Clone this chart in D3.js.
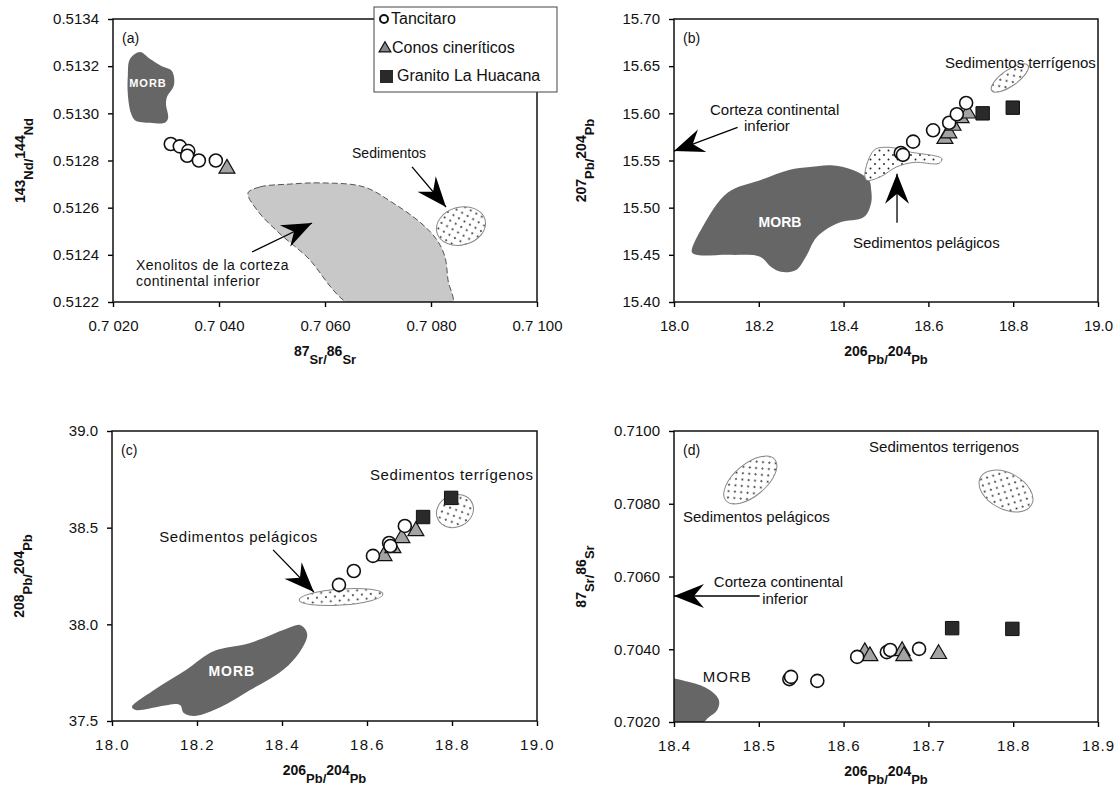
<!DOCTYPE html>
<html>
<head>
<meta charset="utf-8">
<script src="https://d3js.org/d3.v7.min.js"></script>
<style>
  body { margin: 0; background: #fff; }
  text { font-family: "Liberation Sans", Arial, sans-serif; fill: #111; }
</style>
</head>
<body>
<div id="chart"></div>
<script>
// ---------- data ----------
// (a) 87Sr/86Sr vs 143Nd/144Nd
const tanA = [[0.70309,0.51287],[0.70326,0.51286],[0.70342,0.51284],[0.70340,0.51282],[0.70362,0.51280],[0.70394,0.51280]];
const conA = [[0.70415,0.51277]];
const morbA = [[0.70228,0.51316],[0.70232,0.51323],[0.70251,0.51326],[0.70270,0.51323],[0.70292,0.51320],[0.70311,0.51318],
  [0.70315,0.51312],[0.70302,0.51307],[0.70300,0.51304],[0.70304,0.51298],[0.70298,0.51296],[0.70270,0.51296],
  [0.70242,0.51297],[0.70234,0.51300],[0.70228,0.51308]];
const xenoA = [[0.704547,0.512662],[0.704774,0.512688],[0.70534,0.512700],[0.705925,0.512705],[0.706736,0.512688],
  [0.707283,0.51262],[0.707811,0.512535],[0.708113,0.512463],[0.708264,0.512391],[0.708321,0.512293],[0.708396,0.51218],
  [0.706547,0.51218],[0.70566,0.512391],[0.705132,0.512493],[0.704717,0.51259]];
const sedA = [0.708566, 0.512522, 0.00047, 0.000080, -15];      // ellipse: cx, cy, rx, ry, angle

// (b) 206Pb/204Pb vs 207Pb/204Pb
const tanB = [[18.535,15.558],[18.540,15.556],[18.564,15.570],[18.611,15.582],[18.649,15.590],[18.667,15.599],[18.689,15.611]];
const conB = [[18.639,15.574],[18.648,15.580],[18.658,15.588],[18.677,15.596],[18.693,15.601]];
const graB = [[18.728,15.600],[18.799,15.606]];
const morbB = [[18.042,15.453],[18.068,15.480],[18.127,15.516],[18.203,15.529],[18.271,15.540],[18.321,15.543],[18.370,15.545],
  [18.422,15.540],[18.460,15.529],[18.465,15.519],[18.465,15.505],[18.448,15.490],[18.389,15.484],[18.337,15.469],
  [18.311,15.448],[18.288,15.434],[18.252,15.432],[18.229,15.437],[18.203,15.448],[18.134,15.450],[18.052,15.450]];
const pelB = [[18.450,15.535],[18.472,15.561],[18.507,15.564],[18.557,15.559],[18.632,15.552],[18.625,15.547],
  [18.566,15.548],[18.524,15.543],[18.488,15.533],[18.455,15.529]];
const terB = [18.792, 15.6375, 0.052, 0.0085, -35];

// (c) 206Pb/204Pb vs 208Pb/204Pb
const tanC = [[18.534,38.204],[18.569,38.276],[18.614,38.354],[18.652,38.421],[18.655,38.405],[18.689,38.509]];
const conC = [[18.640,38.359],[18.661,38.400],[18.682,38.452],[18.715,38.488]];
const graC = [[18.732,38.555],[18.798,38.654]];
const morbC = [[18.047,37.572],[18.099,37.660],[18.174,37.764],[18.240,37.862],[18.325,37.904],[18.409,37.976],[18.442,37.997],
  [18.456,37.971],[18.459,37.935],[18.433,37.831],[18.393,37.748],[18.325,37.660],[18.256,37.572],[18.195,37.526],
  [18.169,37.541],[18.160,37.583],[18.132,37.583],[18.056,37.557]];
const pelC = [18.539, 38.141, 0.0988, 0.0414, -4];
const terC = [18.807, 38.586, 0.0447, 0.0828, -25];

// (d) 206Pb/204Pb vs 87Sr/86Sr
const tanD = [[18.536,0.70318],[18.538,0.70324],[18.569,0.70313],[18.616,0.70379],[18.651,0.70392],[18.655,0.70398],[18.689,0.70401]];
const conD = [[18.625,0.70395],[18.631,0.70384],[18.669,0.70398],[18.671,0.70384],[18.712,0.70390]];
const graD = [[18.728,0.70458],[18.799,0.70456]];
const morbD = [[18.38,0.70316],[18.418,0.70310],[18.442,0.70288],[18.453,0.70260],[18.451,0.70233],[18.440,0.70211],[18.430,0.70190],[18.38,0.70190]];
const pelD = [18.490, 0.708653, 0.0377, 0.00044, -40];
const terD = [18.7915, 0.70835, 0.0342, 0.000495, 28];

// tick values
const xTicksA = [0.7020,0.7040,0.7060,0.7080,0.7100];
const yTicksA = [0.5122,0.5124,0.5126,0.5128,0.5130,0.5132,0.5134];
const xTicksPb = [18.0,18.2,18.4,18.6,18.8,19.0];
const yTicksB = [15.40,15.45,15.50,15.55,15.60,15.65,15.70];
const yTicksC = [37.5,38.0,38.5,39.0];
const xTicksD = [18.4,18.5,18.6,18.7,18.8,18.9];
const yTicksD = [0.7020,0.7040,0.7060,0.7080,0.7100];

const legendNames = ["Tancitaro", "Conos  cineríticos", "Granito La Huacana"];

// ---------- drawing ----------
const W = 1120, H = 789;
const svg = d3.select("#chart").append("svg").attr("width", W).attr("height", H);
const defs = svg.append("defs");

// dotted fill for sediment fields
const pat = defs.append("pattern").attr("id", "dots").attr("patternUnits", "userSpaceOnUse")
  .attr("width", 9).attr("height", 9);
pat.append("rect").attr("width", 9).attr("height", 9).attr("fill", "#fff");
pat.append("circle").attr("cx", 2).attr("cy", 2).attr("r", 0.95).attr("fill", "#222");
pat.append("circle").attr("cx", 6.5).attr("cy", 6.5).attr("r", 0.95).attr("fill", "#222");

// barbed arrow head
defs.append("marker").attr("id", "head")
  .attr("viewBox", "-34 -14 36 28").attr("refX", 0).attr("refY", 0)
  .attr("markerWidth", 36).attr("markerHeight", 28)
  .attr("markerUnits", "userSpaceOnUse").attr("orient", "auto")
  .append("path").attr("d", "M0,0 L-30,-12 L-20,0 L-30,12 Z").attr("fill", "#000");

function makePanel(p) {
  const x = d3.scaleLinear().domain(p.xDom).range([p.left, p.right]);
  const y = d3.scaleLinear().domain(p.yDom).range([p.bottom, p.top]);
  const g = svg.append("g");

  defs.append("clipPath").attr("id", "clip" + p.id)
    .append("rect").attr("x", p.left).attr("y", p.top)
    .attr("width", p.right - p.left).attr("height", p.bottom - p.top);
  const inner = g.append("g").attr("clip-path", `url(#clip${p.id})`);

  // axes
  const ax = g.append("g").attr("transform", `translate(0,${p.bottom})`)
    .call(d3.axisBottom(x).tickValues(p.xTicks).tickSize(5).tickPadding(13).tickFormat(p.xFmt));
  const ay = g.append("g").attr("transform", `translate(${p.left},0)`)
    .call(d3.axisLeft(y).tickValues(p.yTicks).tickSize(5).tickPadding(9).tickFormat(p.yFmt));
  [ax, ay].forEach(a => {
    a.selectAll("text").attr("font-size", 15).attr("fill", "#222")
      .style("font-family", '"Liberation Sans", Arial, sans-serif');
    a.selectAll("line").attr("stroke", "#000").attr("stroke-width", 1.4);
    a.select(".domain").remove();
  });
  if (p.letterSpacing) ax.selectAll("text").attr("letter-spacing", p.letterSpacing);

  g.append("rect").attr("x", p.left).attr("y", p.top)
    .attr("width", p.right - p.left).attr("height", p.bottom - p.top)
    .attr("fill", "none").attr("stroke", "#111").attr("stroke-width", 1.5);

  // panel letter
  g.append("text").attr("x", p.left + 9).attr("y", p.top + 24).attr("font-size", 14).text(`(${p.id})`);

  // axis titles
  isoTitle(g, (p.left + p.right) / 2, p.bottom + 62, 0, p.xTitle);
  isoTitle(g, p.left - 80, (p.top + p.bottom) / 2, -90, p.yTitle);

  return {x, y, g, inner};
}

function isoTitle(g, tx, ty, rot, parts) {
  const t = g.append("text").attr("transform", `translate(${tx},${ty}) rotate(${rot})`)
    .attr("text-anchor", "middle").attr("font-weight", "bold");
  let cur = 0;
  parts.forEach(s => {
    const num = /\d/.test(s);
    const target = num ? -8 : 0;
    t.append("tspan").attr("dy", target - cur).attr("font-size", num ? 14 : 13).text(s);
    cur = target;
  });
}

const shapeLine = (x, y) => d3.line().x(d => x(d[0])).y(d => y(d[1])).curve(d3.curveCatmullRomClosed.alpha(0.5));

function morbField(P, pts) {
  P.inner.append("path").attr("d", shapeLine(P.x, P.y)(pts)).attr("fill", "#666").attr("stroke", "none");
}
function dotField(P, pts) {
  P.inner.append("path").attr("d", shapeLine(P.x, P.y)(pts))
    .attr("fill", "url(#dots)").attr("stroke", "#888").attr("stroke-width", 1);
}
function dotEllipse(P, e) {
  const cx = P.x(e[0]), cy = P.y(e[1]);
  const rx = Math.abs(P.x(e[0] + e[2]) - cx), ry = Math.abs(P.y(e[1] + e[3]) - cy);
  P.inner.append("ellipse").attr("cx", cx).attr("cy", cy).attr("rx", rx).attr("ry", ry)
    .attr("transform", `rotate(${e[4]},${cx},${cy})`)
    .attr("fill", "url(#dots)").attr("stroke", "#888").attr("stroke-width", 1);
}
function arrow(P, a) {
  P.g.append("line").attr("x1", P.x(a[0])).attr("y1", P.y(a[1])).attr("x2", P.x(a[2])).attr("y2", P.y(a[3]))
    .attr("stroke", "#000").attr("stroke-width", 1.3).attr("marker-end", "url(#head)");
}
function label(P, txt, dx, dy, opt = {}) {
  P.g.append("text").attr("x", P.x(dx)).attr("y", P.y(dy))
    .attr("font-size", opt.size || 15).attr("font-weight", opt.bold ? "bold" : null)
    .attr("text-anchor", opt.anchor || "start")
    .attr("letter-spacing", opt.ls || null)
    .style("fill", opt.color || "#111").text(txt);
}

const tri = d3.symbol().type(d3.symbolTriangle).size(110);
const sq = d3.symbol().type(d3.symbolSquare).size(180);
function points(P, tan, con, gra) {
  P.g.selectAll(null).data(con).join("path")
    .attr("transform", d => `translate(${P.x(d[0])},${P.y(d[1]) + 1})`).attr("d", tri)
    .attr("fill", "#a3a3a3").attr("stroke", "#111").attr("stroke-width", 1.2);
  P.g.selectAll(null).data(tan).join("circle")
    .attr("cx", d => P.x(d[0])).attr("cy", d => P.y(d[1])).attr("r", 6.5)
    .attr("fill", "#fff").attr("stroke", "#111").attr("stroke-width", 1.6);
  P.g.selectAll(null).data(gra).join("path")
    .attr("transform", d => `translate(${P.x(d[0])},${P.y(d[1])})`).attr("d", sq)
    .attr("fill", "#2a2a2a").attr("stroke", "#111").attr("stroke-width", 1);
}

const f4 = d3.format(".4f"), f1 = d3.format(".1f"), f2 = d3.format(".2f");
const pbTitle = ["206", "Pb", "/", "204", "Pb"];

// ----- (a) -----
const A = makePanel({id: "a", left: 113, right: 537, top: 19, bottom: 302,
  xDom: [0.7020, 0.7100], yDom: [0.5122, 0.5134], xTicks: xTicksA, yTicks: yTicksA,
  xFmt: d => f4(d).replace(/^0\.7/, "0.7 "), yFmt: f4,
  xTitle: ["87", "Sr", "/", "86", "Sr"], yTitle: ["143", "Nd", "/", "144", "Nd"]});
A.inner.append("path").attr("d", shapeLine(A.x, A.y)(xenoA))
  .attr("fill", "#c8c8c8").attr("stroke", "#555").attr("stroke-width", 1).attr("stroke-dasharray", "6,3");
morbField(A, morbA);
dotEllipse(A, sedA);
label(A, "MORB", 0.70266, 0.513112, {size: 11, bold: true, anchor: "middle", color: "#fff", ls: 1});
label(A, "Sedimentos", 0.70651, 0.512811, {size: 14});
arrow(A, [0.707642, 0.512773, 0.708283, 0.512603]);
label(A, "Xenolitos de la corteza", 0.702434, 0.512336, {size: 14, ls: 0.5});
label(A, "continental inferior", 0.702434, 0.512268, {size: 14, ls: 0.5});
arrow(A, [0.704623, 0.512412, 0.705755, 0.512535]);
points(A, tanA, conA, []);

// ----- (b) -----
const B = makePanel({id: "b", left: 674, right: 1098, top: 19, bottom: 302,
  xDom: [18.0, 19.0], yDom: [15.40, 15.70], xTicks: xTicksPb, yTicks: yTicksB,
  xFmt: f1, yFmt: f2, xTitle: pbTitle, yTitle: ["207", "Pb", "/", "204", "Pb"]});
morbField(B, morbB);
dotField(B, pelB);
dotEllipse(B, terB);
label(B, "MORB", 18.25, 15.480, {size: 14, bold: true, anchor: "middle", color: "#fff"});
label(B, "Sedimentos terrígenos", 18.995, 15.6485, {anchor: "end"});
label(B, "Corteza continental", 18.085, 15.5985);
label(B, "inferior", 18.165, 15.5810);
arrow(B, [18.150, 15.5850, 18.0, 15.5600]);
label(B, "Sedimentos pelágicos", 18.422, 15.457);
arrow(B, [18.526, 15.484, 18.526, 15.536]);
points(B, tanB, conB, graB);

// ----- (c) -----
const C = makePanel({id: "c", left: 112, right: 537, top: 431, bottom: 721,
  xDom: [18.0, 19.0], yDom: [37.5, 39.0], xTicks: xTicksPb, yTicks: yTicksC,
  xFmt: f1, yFmt: f1, letterSpacing: 1.5, xTitle: pbTitle, yTitle: ["208", "Pb", "/", "204", "Pb"]});
morbField(C, morbC);
dotEllipse(C, pelC);
dotEllipse(C, terC);
label(C, "MORB", 18.282, 37.735, {size: 14, bold: true, anchor: "middle", color: "#fff", ls: 1});
label(C, "Sedimentos terrígenos", 18.607, 38.747, {ls: 0.6});
label(C, "Sedimentos pelágicos", 18.111, 38.426, {ls: 0.6});
arrow(C, [18.379, 38.385, 18.475, 38.167]);
points(C, tanC, conC, graC);

// ----- (d) -----
const D = makePanel({id: "d", left: 674, right: 1098, top: 431, bottom: 722,
  xDom: [18.4, 18.9], yDom: [0.7020, 0.7100], xTicks: xTicksD, yTicks: yTicksD,
  xFmt: f1, yFmt: f4, letterSpacing: 1, xTitle: pbTitle, yTitle: ["87", "Sr", "/", "86", "Sr"]});
morbField(D, morbD);
dotEllipse(D, pelD);
dotEllipse(D, terD);
label(D, "MORB", 18.434, 0.70310, {ls: 1});
label(D, "Sedimentos terrigenos", 18.630, 0.709428);
label(D, "Sedimentos pelágicos", 18.4106, 0.707498);
label(D, "Corteza continental", 18.447, 0.705711);
label(D, "inferior", 18.504, 0.705244);
arrow(D, [18.501, 0.705464, 18.4, 0.705464]);
points(D, tanD, conD, graD);

// ----- legend -----
const lg = svg.append("g");
lg.append("rect").attr("x", 374).attr("y", 7).attr("width", 183).attr("height", 85)
  .attr("fill", "#fff").attr("stroke", "#444").attr("stroke-width", 1);
const ly = d3.scalePoint().domain(legendNames).range([19, 76]);
lg.append("circle").attr("cx", 384).attr("cy", ly(legendNames[0])).attr("r", 4)
  .attr("fill", "#fff").attr("stroke", "#111").attr("stroke-width", 2);
lg.append("path").attr("transform", `translate(385,${ly(legendNames[1]) + 1})`)
  .attr("d", d3.symbol().type(d3.symbolTriangle).size(60)).attr("fill", "#888").attr("stroke", "#111").attr("stroke-width", 1.2);
lg.append("rect").attr("x", 380).attr("y", ly(legendNames[2]) - 6).attr("width", 13).attr("height", 13).attr("fill", "#2a2a2a");
lg.selectAll("text.lt").data(legendNames).join("text").attr("class", "lt")
  .attr("x", (d, i) => [391, 392, 397][i]).attr("y", d => ly(d) + 5)
  .attr("font-size", 16).text(d => d);
</script>
</body>
</html>
